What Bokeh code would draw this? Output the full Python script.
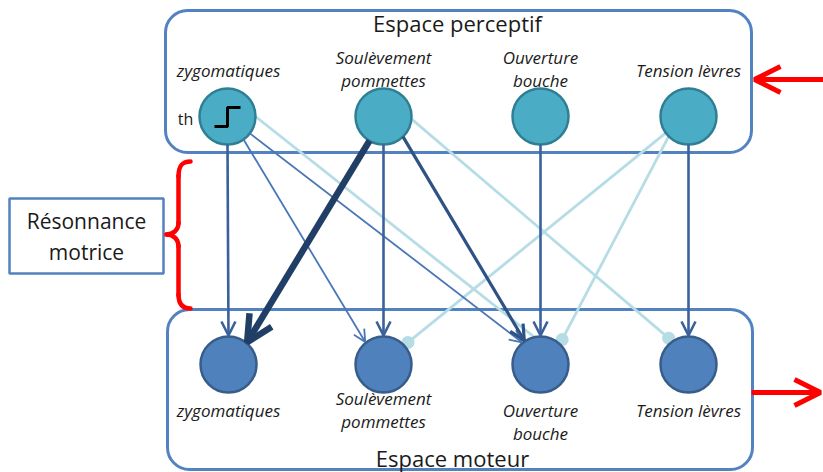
import numpy as np
from bokeh.plotting import figure
from bokeh.models import Range1d, BoxAnnotation, Arrow, OpenHead, ColumnDataSource
from bokeh.core.properties import value
from bokeh.embed import file_html
from bokeh.resources import INLINE

# ---- diagram data (pixel-like coordinates, y grows downward) ----
top_x = [227, 383, 540, 688]
top_y = [116, 116, 116, 116]
bot_x = [228, 383, 540, 688]
bot_y = [364, 364, 364, 364]
node_r = 28

top_label_text = ["zygomatiques", "Soulèvement", "pommettes", "Ouverture", "bouche", "Tension lèvres"]
top_label_x = [228, 383, 383, 540, 540, 688]
top_label_y = [70, 57, 80, 57, 80, 70]
bot_label_text = ["zygomatiques", "Soulèvement", "pommettes", "Ouverture", "bouche", "Tension lèvres"]
bot_label_x = [228, 383, 383, 540, 540, 688]
bot_label_y = [410, 398, 421, 410, 433, 410]

# edges: source (perceptual) -> target (motor)
edge_src = [0, 1, 2, 3, 1, 1, 0, 0, 0, 1, 3, 3]
edge_dst = [0, 1, 2, 3, 0, 2, 1, 2, 2, 3, 1, 2]
edge_kind = ["main", "main", "main", "main", "thick", "strong", "thin", "thin",
             "light", "light", "light", "light"]
edge_src_angle = [90, 90, 90, 90, 120, 46, 55, 37, 0, 5, 144, 135]
edge_dst_angle = [-90, -90, -90, -90, -50, -124, -129, -130, -104, -127, -42, -49]
edge_ball = [False, False, False, False, False, False, False, False, False, True, True, True]

styles = {
    "main":   dict(color="#3a619c", width=2.6, head=14),
    "thick":  dict(color="#213f66", width=6.5, head=26),
    "strong": dict(color="#2e5283", width=3.2, head=15),
    "thin":   dict(color="#4a76b6", width=1.8, head=12),
    "light":  dict(color="#b6dce6", width=2.8, head=0),
}

W, H = 823, 472
p = figure(width=W, height=H, x_range=Range1d(0, W), y_range=Range1d(H, 0),
           output_backend="svg", toolbar_location=None, min_border=0,
           x_axis_location=None, y_axis_location=None)
p.grid.visible = False
p.outline_line_color = None
p.background_fill_color = "white"

FONT = value("Open Sans")
BOX_COL = "#5282c0"

# rounded containers
p.add_layout(BoxAnnotation(left=165, right=751, top=10, bottom=152, fill_alpha=0,
                           line_color=BOX_COL, line_alpha=1, line_width=3, border_radius=22, level="underlay"))
p.add_layout(BoxAnnotation(left=167, right=752, top=309, bottom=469, fill_alpha=0,
                           line_color=BOX_COL, line_alpha=1, line_width=3, border_radius=22, level="underlay"))
# Résonnance box
p.add_layout(BoxAnnotation(left=9, right=163, top=198, bottom=273, fill_color="white", fill_alpha=1,
                           line_color=BOX_COL, line_alpha=1, line_width=2.5, level="underlay"))

# edges
def pt(cx, cy, ang, rr):
    a = np.deg2rad(ang)
    return cx + rr * np.cos(a), cy + rr * np.sin(a)

for kind in ["light", "thin", "main", "strong", "thick"]:
    st = styles[kind]
    xs0, ys0, xs1, ys1, bx, by = [], [], [], [], [], []
    for s, d, k, a0, a1, ball in zip(edge_src, edge_dst, edge_kind, edge_src_angle, edge_dst_angle, edge_ball):
        if k != kind:
            continue
        x0, y0 = pt(top_x[s], top_y[s], a0, node_r)
        rr = node_r + 5 if ball else node_r + 1
        x1, y1 = pt(bot_x[d], bot_y[d], a1, rr)
        xs0.append(x0); ys0.append(y0); xs1.append(x1); ys1.append(y1)
        if ball:
            bx.append(x1); by.append(y1)
    if not xs0:
        continue
    if st["head"] > 0:
        src = ColumnDataSource(dict(x0=xs0, y0=ys0, x1=xs1, y1=ys1))
        p.add_layout(Arrow(source=src, x_start="x0", y_start="y0", x_end="x1", y_end="y1",
                           line_color=st["color"], line_width=st["width"],
                           end=OpenHead(size=st["head"], line_color=st["color"], line_width=st["width"])))
    else:
        p.segment(xs0, ys0, xs1, ys1, line_color=st["color"], line_width=st["width"])
        if bx:
            p.circle(bx, by, radius=6.5, fill_color=st["color"], line_color=None)

# nodes
p.circle(top_x, top_y, radius=node_r, fill_color="#4bacc6", line_color="#2f7f94", line_width=2.5)
p.circle(bot_x, bot_y, radius=node_r, fill_color="#4f81bd", line_color="#385d8a", line_width=2.5)

# threshold step in first perceptual node
step_x = [214, 227, 227, 240]
step_y = [126, 126, 107, 107]
p.line(step_x, step_y, line_color="black", line_width=3)
p.text([185], [118], text=["th"], text_font=FONT, text_font_size="16px",
       text_align="center", text_baseline="middle", text_color="#1a1a1a")

# labels
p.text(top_label_x, top_label_y, text=top_label_text, text_font=FONT, text_font_size="17px",
       text_font_style="italic", text_align="center", text_baseline="middle", text_color="#1a1a1a")
p.text(bot_label_x, bot_label_y, text=bot_label_text, text_font=FONT, text_font_size="17px",
       text_font_style="italic", text_align="center", text_baseline="middle", text_color="#1a1a1a")

titles = ["Espace perceptif", "Espace moteur"]
title_x = [457, 452]
title_y = [22, 457]
p.text(title_x, title_y, text=titles, text_font=FONT, text_font_size="22px",
       text_align="center", text_baseline="middle", text_color="#1a1a1a")

res_text = ["Résonnance", "motrice"]
res_x = [86, 86]
res_y = [220, 251]
p.text(res_x, res_y, text=res_text, text_font=FONT, text_font_size="21px",
       text_align="center", text_baseline="middle", text_color="#1a1a1a")

# red curly brace
RED = "#ff0000"
bz = dict(x0=[190, 178, 166, 178], y0=[161, 222, 234, 294],
          x1=[178, 166, 178, 190], y1=[176, 234, 246, 308],
          cx0=[181, 178, 172, 178], cy0=[161, 230, 234, 302],
          cx1=[178, 172, 178, 181], cy1=[166, 234, 238, 308])
p.bezier(**bz, line_color=RED, line_width=4.5, line_cap="round")
p.segment([178, 178], [175, 245], [178, 178], [223, 295], line_color=RED, line_width=4.5, line_cap="round")

# red in/out arrows
red_x0 = [823, 751]
red_x1 = [754, 820]
red_y = [79, 392]
rsrc = ColumnDataSource(dict(x0=red_x0, x1=red_x1, y=red_y))
p.add_layout(Arrow(source=rsrc, x_start="x0", y_start="y", x_end="x1", y_end="y",
                   line_color=RED, line_width=5,
                   end=OpenHead(size=26, line_color=RED, line_width=5)))

open("out.html", "w").write(file_html(p, INLINE))
